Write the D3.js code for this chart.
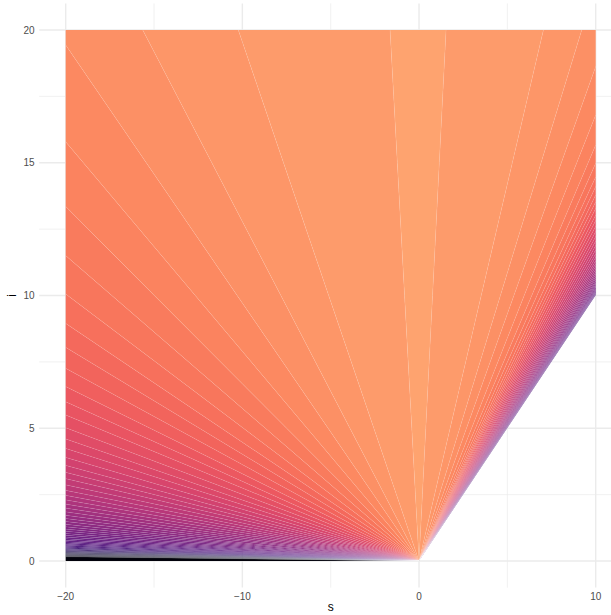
<!DOCTYPE html>
<html><head><meta charset="utf-8">
<script src="https://cdn.jsdelivr.net/npm/d3@7"></script>
<style>body{margin:0;background:#fff} svg{display:block}</style>
</head><body>
<script>
// ---- data ----
const xMajor = [-20, -10, 0, 10];
const xMinor = [-15, -5, 5];
const yMajor = [0, 5, 10, 15, 20];
const yMinor = [2.5, 7.5, 12.5, 17.5];
const xTickLabels = ["\u221220", "\u221210", "0", "10"];
const yTickLabels = ["0", "5", "10", "15", "20"];
// outline of the region that carries data (s, i)
const dataOutline = [[-20, 0], [0, 0], [10, 10], [10, 20], [-20, 20]];
// contour boundaries (rays from the origin): i where they meet s = -20, top to bottom
const leftEdgeI = [19.43, 15.79, 13.35, 11.5, 10.06, 8.95, 8.05, 7.26, 6.57, 6.0,
  5.5, 5.02, 4.6, 4.24, 3.9, 3.6, 3.34, 3.1, 2.87, 2.66,
  2.47, 2.3, 2.14, 1.99, 1.85, 1.72, 1.6, 1.49, 1.38, 1.29,
  1.2, 1.12, 1.04, 0.97, 0.9, 0.84, 0.78, 0.73, 0.68, 0.63,
  0.59, 0.55, 0.51, 0.47, 0.44, 0.41, 0.38, 0.35, 0.33, 0.3,
  0.28, 0.26, 0.24, 0.22, 0.2, 0.18, 0.16];
// s where they meet i = 20, left to right
const topEdgeS = [-15.64, -10.23, -1.64, 1.53, 7.04, 9.21];
// i where they meet s = 10, top to bottom
const rightEdgeI = [18.62, 16.8, 15.67, 14.98, 14.47, 14.1, 13.79, 13.53, 13.28, 13.03,
  12.82, 12.61, 12.41, 12.22, 12.05, 11.88, 11.72, 11.57, 11.44, 11.31,
  11.2, 11.09, 10.98, 10.88, 10.79, 10.71, 10.63, 10.55, 10.48, 10.42,
  10.36, 10.31, 10.26, 10.21, 10.17, 10.14, 10.11, 10.08, 10.06, 10.04, 10.02];
// contour level of each band, from the band along i = 0 round to the band along the diagonal
const bandLevels = [1,2,3,4,5,6,7,8,9,10,11,12,13,14,15,16,17,18,19,20,
  21,22,23,24,25,26,27,28,29,30,31,32,33,34,35,36,37,38,39,40,
  41,42,43,44,45,46,47,48,49,50,51,52,53,54,55,56,57,58,59,60,61,
  60,59,58,57,56,55,54,53,52,51,50,49,48,47,46,45,44,43,42,41,
  40,39,38,37,36,35,34,33,32,31,30,29,28,27,26,25,24,23,22,21,20,19,18,17];

// ---- drawing ----
const W = 611, H = 615;
const x = d3.scaleLinear().domain([-21.5, 11.5]).range([39.2, 622.2]);
const y = d3.scaleLinear().domain([-1, 21]).range([587.6, 3.45]);
const color = d3.scaleSequential(d3.interpolateMagma).domain([-0.5, 75.9]);

const svg = d3.select("body").append("svg").attr("width", W).attr("height", H);

// grid
const grid = svg.append("g");
grid.selectAll(".vmin").data(xMinor).join("line")
  .attr("x1", d => x(d)).attr("x2", d => x(d)).attr("y1", y(21)).attr("y2", y(-1))
  .attr("stroke", "#EBEBEB").attr("stroke-width", 0.7);
grid.selectAll(".hmin").data(yMinor).join("line")
  .attr("y1", d => y(d)).attr("y2", d => y(d)).attr("x1", x(-21.5)).attr("x2", x(11.5))
  .attr("stroke", "#EBEBEB").attr("stroke-width", 0.7);
grid.selectAll(".vmaj").data(xMajor).join("line")
  .attr("x1", d => x(d)).attr("x2", d => x(d)).attr("y1", y(21)).attr("y2", y(-1))
  .attr("stroke", "#EBEBEB").attr("stroke-width", 1.4);
grid.selectAll(".hmaj").data(yMajor).join("line")
  .attr("y1", d => y(d)).attr("y2", d => y(d)).attr("x1", x(-21.5)).attr("x2", x(11.5))
  .attr("stroke", "#EBEBEB").attr("stroke-width", 1.4);

// clip to the data region
svg.append("clipPath").attr("id", "dataclip")
  .append("polygon").attr("points", dataOutline.map(p => [x(p[0]), y(p[1])].join(",")).join(" "));

const rays = [
  ...leftEdgeI.slice().reverse().map(v => [-20, v]),
  ...topEdgeS.map(v => [v, 20]),
  ...rightEdgeI.map(v => [10, v])
];
const bounds = [[-20, 0], ...rays, [10, 10]];
const bands = d3.range(bounds.length - 1).map(k => ({a: bounds[k], b: bounds[k + 1], level: bandLevels[k]}));

const far = 6;
const gBands = svg.append("g").attr("clip-path", "url(#dataclip)");
gBands.selectAll("polygon").data(bands).join("polygon")
  .attr("points", d => [[0, 0], [d.a[0] * far, d.a[1] * far], [d.b[0] * far, d.b[1] * far]]
      .map(p => [x(p[0]), y(p[1])].join(",")).join(" "))
  .attr("fill", d => color(d.level));

// faint seams along the band boundaries
gBands.selectAll("line").data(rays).join("line")
  .attr("x1", x(0)).attr("y1", y(0))
  .attr("x2", d => x(d[0] * far)).attr("y2", d => y(d[1] * far))
  .attr("stroke", "#ffffff").attr("stroke-opacity", 0.17).attr("stroke-width", 0.6);

// tick labels
const font = "'Liberation Sans', Arial, sans-serif";
svg.selectAll(".xt").data(xMajor).join("text")
  .attr("x", d => x(d)).attr("y", 596).attr("dy", "0.35em")
  .attr("text-anchor", "middle").attr("font-family", font).attr("font-size", 10)
  .attr("fill", "#4D4D4D").text((d, k) => xTickLabels[k]);
svg.selectAll(".yt").data(yMajor).join("text")
  .attr("x", 34.5).attr("y", d => y(d)).attr("dy", "0.35em")
  .attr("text-anchor", "end").attr("font-family", font).attr("font-size", 10)
  .attr("fill", "#4D4D4D").text((d, k) => yTickLabels[k]);

// axis titles
svg.append("text").attr("x", (x(-21.5) + x(11.5)) / 2).attr("y", 607).attr("dy", "0.35em")
  .attr("text-anchor", "middle").attr("font-family", font).attr("font-size", 12)
  .attr("fill", "#000").text("s");
svg.append("text").attr("transform", `translate(12,${(y(-1) + y(21)) / 2}) rotate(-90)`)
  .attr("dy", "0.35em").attr("text-anchor", "middle").attr("font-family", font).attr("font-size", 12)
  .attr("fill", "#000").text("i");
</script>
</body></html>
